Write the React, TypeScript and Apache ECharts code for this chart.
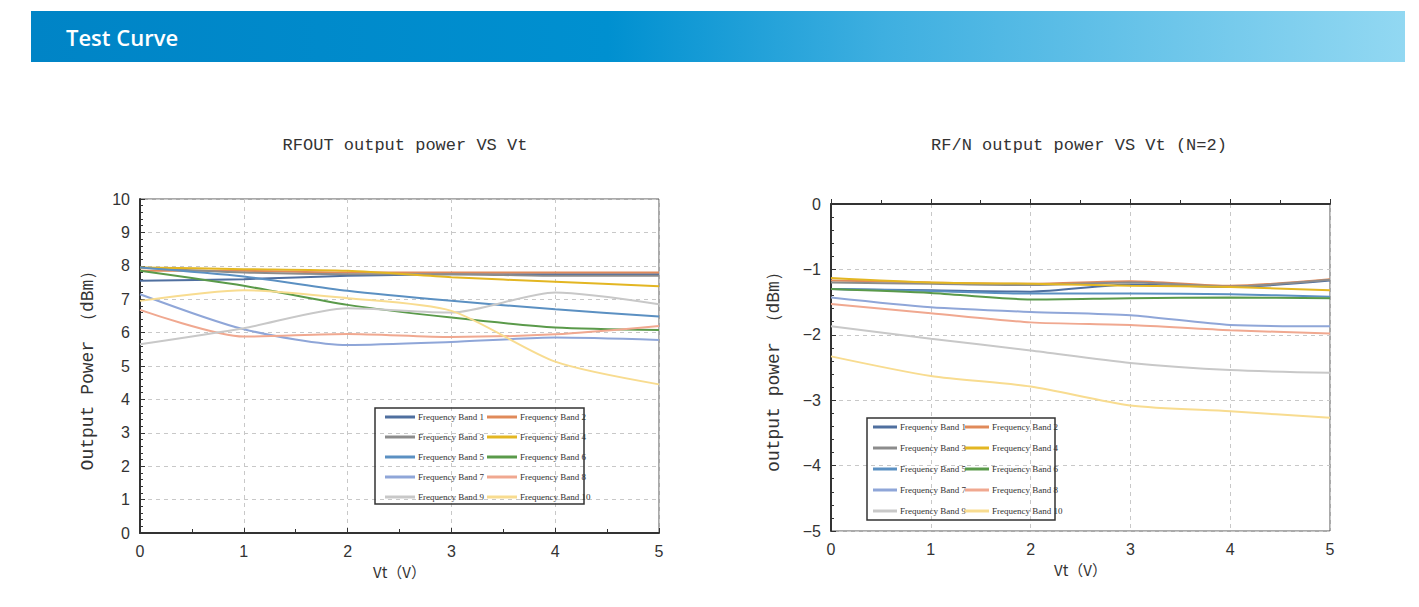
import React, { useEffect, useRef } from "react";
import * as echarts from "echarts";

const vt = [0, 1, 2, 3, 4, 5];
const bandNames = [
  "Frequency Band 1", "Frequency Band 2", "Frequency Band 3", "Frequency Band 4", "Frequency Band 5",
  "Frequency Band 6", "Frequency Band 7", "Frequency Band 8", "Frequency Band 9", "Frequency Band 10",
];
const bandColors = [
  "#4f6f9f", "#e08a5a", "#8c8c8c", "#e3b622", "#5b90c2",
  "#5a9a4a", "#8fa6d8", "#f0a890", "#c8c8c8", "#f8dc90",
];

// RFOUT output power VS Vt (dBm)
const rf1 = [7.55, 7.6, 7.7, 7.75, 7.75, 7.75];
const rf2 = [7.85, 7.85, 7.8, 7.8, 7.8, 7.8];
const rf3 = [7.95, 7.8, 7.75, 7.75, 7.7, 7.7];
const rf4 = [7.95, 7.9, 7.85, 7.66, 7.52, 7.39];
const rf5 = [7.95, 7.68, 7.25, 6.95, 6.7, 6.48];
const rf6 = [7.85, 7.4, 6.83, 6.45, 6.15, 6.08];
const rf7 = [7.15, 6.1, 5.63, 5.72, 5.85, 5.78];
const rf8 = [6.68, 5.88, 5.96, 5.87, 5.95, 6.2];
const rf9 = [5.65, 6.13, 6.73, 6.6, 7.2, 6.85];
const rf10 = [6.95, 7.27, 7.03, 6.65, 5.13, 4.45];

// RF/N output power VS Vt (N=2) (dBm)
const rn1 = [-1.3, -1.32, -1.34, -1.23, -1.27, -1.17];
const rn2 = [-1.17, -1.2, -1.22, -1.18, -1.25, -1.15];
const rn3 = [-1.2, -1.22, -1.24, -1.2, -1.26, -1.16];
const rn4 = [-1.13, -1.2, -1.22, -1.25, -1.27, -1.32];
const rn5 = [-1.3, -1.33, -1.37, -1.37, -1.38, -1.42];
const rn6 = [-1.3, -1.36, -1.46, -1.44, -1.43, -1.44];
const rn7 = [-1.43, -1.58, -1.65, -1.7, -1.85, -1.87];
const rn8 = [-1.53, -1.67, -1.81, -1.85, -1.93, -1.98];
const rn9 = [-1.87, -2.06, -2.24, -2.43, -2.54, -2.58];
const rn10 = [-2.33, -2.63, -2.79, -3.08, -3.17, -3.27];

const leftSeries = [rf1, rf2, rf3, rf4, rf5, rf6, rf7, rf8, rf9, rf10];
const rightSeries = [rn1, rn2, rn3, rn4, rn5, rn6, rn7, rn8, rn9, rn10];

const xTicks = [0, 1, 2, 3, 4, 5];

export default function App() {
  const ref = useRef<HTMLDivElement>(null);

  useEffect(() => {
    if (!ref.current) return;
    const chart = echarts.init(ref.current, null, { renderer: "svg" });

    const labelFont = { fontFamily: "Liberation Sans", fontSize: 16, color: "#333" };
    const monoName = { fontFamily: "Liberation Mono", fontSize: 18, color: "#333" };

    const mkX = (gridIndex: number) => ({
      type: "value",
      gridIndex,
      min: xTicks[0],
      max: xTicks[xTicks.length - 1],
      interval: 1,
      name: "Vt（V）",
      nameLocation: "middle",
      nameGap: 30,
      nameTextStyle: { fontFamily: "Noto Sans CJK SC", fontSize: 15, color: "#333" },
      axisLine: { show: true, lineStyle: { color: "#333", width: 2 } },
      axisTick: { show: true, inside: true, length: 5, lineStyle: { color: "#333" } },
      minorTick: { show: true, splitNumber: 2, length: 4, lineStyle: { color: "#333" } },
      splitLine: { show: true, lineStyle: { type: [4, 4], color: "#c8c8c8" } },
      axisLabel: { ...labelFont, margin: 10 },
    });

    const mkY = (gridIndex: number, min: number, max: number, name: string, nameGap: number) => ({
      type: "value",
      gridIndex,
      min,
      max,
      interval: 1,
      name,
      nameLocation: "middle",
      nameGap,
      nameRotate: 90,
      nameTextStyle: monoName,
      axisLine: { show: true, lineStyle: { color: "#333", width: 2 } },
      axisTick: { show: true, inside: true, length: 5, lineStyle: { color: "#333" } },
      minorTick: { show: true, splitNumber: 5, length: 3, lineStyle: { color: "#333" } },
      splitLine: { show: true, lineStyle: { type: [4, 4], color: "#c8c8c8" } },
      axisLabel: {
        ...labelFont,
        margin: 10,
        formatter: (v: number) => String(v).replace("-", "−"),
      },
    });

    const mkSeries = (data: number[][], idx: number) =>
      data.map((vals, i) => ({
        name: bandNames[i],
        type: "line",
        xAxisIndex: idx,
        yAxisIndex: idx,
        data: vals.map((v, j) => [vt[j], v]),
        symbol: "none",
        smooth: 0.25,
        lineStyle: { width: 2, color: bandColors[i] },
        itemStyle: { color: bandColors[i] },
      }));

    const oddNames = bandNames.filter((_, i) => i % 2 === 0);
    const evenNames = bandNames.filter((_, i) => i % 2 === 1);

    const mkLegend = (names: string[], left: number, top: number, itemWidth: number, itemGap: number) => ({
      show: true,
      data: names,
      orient: "vertical",
      left,
      top,
      itemWidth,
      itemHeight: 3,
      itemGap,
      icon: "rect",
      padding: 0,
      selectedMode: false,
      textStyle: { fontFamily: "Liberation Serif", fontSize: 9, color: "#333", lineHeight: 12, padding: [0, 0, 0, -2] },
    });

    chart.setOption({
      animation: false,
      backgroundColor: "#ffffff",
      color: bandColors,
      grid: [
        { left: 140, top: 199, width: 519, height: 334, show: true, borderColor: "#555", borderWidth: 1 },
        { left: 831, top: 204, width: 499, height: 327, show: true, borderColor: "#555", borderWidth: 1 },
      ],
      xAxis: [mkX(0), mkX(1)],
      yAxis: [
        mkY(0, 0, 10, "Output Power （dBm）", 43),
        mkY(1, -5, 0, "output power （dBm）", 48),
      ],
      legend: [
        mkLegend(oddNames, 385, 411, 30, 8),
        mkLegend(evenNames, 487, 411, 30, 8),
        mkLegend(oddNames, 873, 421, 24, 9),
        mkLegend(evenNames, 965, 421, 24, 9),
      ],
      series: [...mkSeries(leftSeries, 0), ...mkSeries(rightSeries, 1)],
      graphic: [
        {
          type: "rect",
          shape: { x: 31, y: 11, width: 1374, height: 51 },
          style: {
            fill: new echarts.graphic.LinearGradient(0, 0, 1, 0, [
              { offset: 0, color: "#0084c6" },
              { offset: 0.42, color: "#0090d0" },
              { offset: 0.62, color: "#3eafe0" },
              { offset: 1, color: "#92d8f2" },
            ]),
          },
          silent: true,
        },
        {
          type: "text",
          x: 66,
          y: 37,
          style: {
            text: "Test Curve",
            fill: "#ffffff",
            font: "600 22px 'Open Sans'",
            align: "left",
            verticalAlign: "middle",
          },
        },
        {
          type: "text",
          x: 405,
          y: 145,
          style: {
            text: "RFOUT output power VS Vt",
            fill: "#333",
            font: "17px 'Liberation Mono'",
            align: "center",
            verticalAlign: "middle",
          },
        },
        {
          type: "text",
          x: 1079,
          y: 145,
          style: {
            text: "RF/N output power VS Vt (N=2)",
            fill: "#333",
            font: "17px 'Liberation Mono'",
            align: "center",
            verticalAlign: "middle",
          },
        },
        {
          type: "rect",
          z: 100,
          shape: { x: 375, y: 408, width: 209, height: 96 },
          style: { fill: "none", stroke: "#333", lineWidth: 1.5 },
          silent: true,
        },
        {
          type: "rect",
          z: 100,
          shape: { x: 867, y: 418, width: 188, height: 102 },
          style: { fill: "none", stroke: "#333", lineWidth: 1.5 },
          silent: true,
        },
      ],
    });

    return () => chart.dispose();
  }, []);

  return (
    <div
      ref={ref}
      style={{ position: "absolute", left: 0, top: 0, width: 1419, height: 607, background: "#fff" }}
    />
  );
}
